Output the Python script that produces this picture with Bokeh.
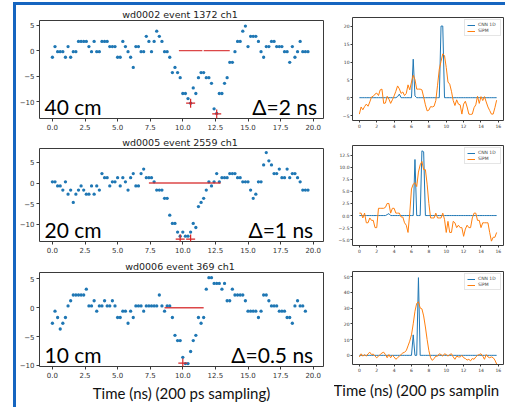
import numpy as np
from bokeh.plotting import figure
from bokeh.layouts import row, column, Spacer
from bokeh.models import Label, Range1d, FixedTicker, Legend, LegendItem, CustomJSTickFormatter, Title
from bokeh.embed import file_html
from bokeh.resources import INLINE

# ---------------- data: left panels (digitised waveform, 200 ps sampling) -------------
titles_left = ["wd0002 event 1372  ch1", "wd0005 event 2559  ch1", "wd0006 event 369  ch1"]
dist_labels = ["40 cm", "20 cm", "10 cm"]
delta_labels = ["\u0394=2 ns", "\u0394=1 ns", "\u0394=0.5 ns"]

wave1 = [-1.3, 0.8, -0.2, -0.2, -0.2, -1.3, 0.8, -1.3, -0.2, -0.2,
         1.8, 1.8, 1.8, 1.8, 0.8, -0.2, 1.8, -0.2, -0.2, 1.8,
         1.8, 1.8, 0.8, 0.8, 0.8, -1.3, -1.3, 1.8, 0.8, -0.2,
         -1.3, -3.3, 0.8, 0.8, -0.2, -0.2, 2.8, 1.8, -0.2, 1.8,
         3.8, 2.8, 1.8, -0.2, -0.2, -1.3, -4.3, -3.3, -4.3, -5.3,
         -8.4, -8.4, -9.4, -10.3, -7.3, -8.4, -5.3, -4.3, -4.3, -5.3,
         -5.3, -6.4, -11.4, -12.3, -8.4, -8.4, -6.4, -5.3, -2.3, -2.3,
         -0.2, 1.8, 1.8, 3.8, 4.8, 0.8, 2.8, 2.8, 2.8, 1.8,
         -0.2, -1.3, 0.8, 0.8, 1.8, 1.8, 0.8, 0.8, 0.8, -0.2,
         -0.2, -2.3, 0.8, -1.3, -0.2, 1.8, -0.2, -0.2, -0.2]
wave2 = [0.3, 0.3, -0.7, -0.7, -1.7, 0.3, -2.7, -1.7, -4.7, -2.7,
         -1.7, -0.7, -1.7, -2.7, -2.7, -0.7, -2.7, -0.7, -1.7, 2.3,
         1.3, 1.3, -0.7, 0.3, 0.3, 1.3, -0.7, 1.3, 0.3, -1.7,
         1.3, 2.3, -0.7, -0.7, 2.3, 3.4, 1.3, 1.3, 1.3, 0.3,
         -1.7, -1.7, -1.7, -3.7, -3.7, -7.8, -9.8, -9.8, -11.9, -12.9,
         -11.9, -12.9, -12.9, -11.9, -9.8, -10.8, -5.7, -4.7, -3.7, -1.7,
         0.3, -0.7, 0.3, 2.3, 0.3, 1.3, 1.3, 1.3, 2.3, 2.3,
         2.3, 1.3, 1.3, 0.3, 0.3, 0.3, -1.7, -3.7, -2.7, 0.3,
         0.3, 4.4, 7.4, 5.4, 4.4, 2.3, 2.3, 3.4, 1.3, 1.3,
         3.4, 1.3, 2.3, 2.3, 1.3, 0.3, -1.7, -1.7, -1.7]
wave3 = [-2.7, -0.6, -1.7, -3.7, -2.7, -1.7, 0.3, 1.2, 2.2, 2.2,
         2.2, 2.2, 2.2, 3.2, 0.3, 0.3, 1.2, -0.6, 0.3, 0.3,
         1.2, 0.3, 0.3, 1.2, 0.3, -1.7, -1.7, -0.6, -0.6, -2.7,
         -0.6, -1.7, 0.3, 0.3, 0.3, -0.6, 0.3, 0.3, 0.3, 0.3,
         0.3, 2.2, 0.3, -0.6, 0.3, 0.3, -1.7, -4.8, -5.7, -5.7,
         -8.6, -9.7, -9.7, -7.6, -5.7, -4.8, -1.7, -2.7, -1.7, 3.2,
         5.2, 5.2, 4.2, 4.2, 4.2, 3.2, 4.2, 1.2, 1.2, 3.2,
         2.2, 2.2, 2.2, 2.2, 1.2, -0.6, -0.6, -0.6, -0.6, -1.7,
         -0.6, 2.2, 2.2, 1.2, 0.3, 0.3, 0.3, -0.6, -0.6, -0.6,
         -1.7, -1.7, -2.7, 0.3, 1.2, 0.3, 0.3, -0.6]
waves = [wave1, wave2, wave3]

# red baseline segments (start, end) and red crosses (time, amplitude)
red_segments = [[(9.7, 11.5), (11.6, 13.6)], [(7.4, 12.9)], [(8.6, 11.6)]]
red_crosses = [[(10.6, -10.3), (12.6, -12.4)], [(9.8, -13.6), (10.6, -13.6)], [(10.0, -9.6)]]
left_yranges = [(-13.3, 5.9), (-14.2, 8.4), (-10.2, 6.1)]
left_xrange = (-0.99, 20.79)
left_xticks = [0, 2.5, 5, 7.5, 10, 12.5, 15, 17.5, 20]
left_yticks = [-10, -5, 0, 5]
delta_x = [20.3, 20.0, 20.0]

# ---------------- data: right panels (CNN 1D vs SiPM) ----------------
cnn1 = [0.0] * 80
for i, v in [(22, 0.3), (23, 1.0), (31, 10.8), (32, 0.5), (47, 20.1), (48, 20.1)]:
    cnn1[i] = v
cnn2 = [0.0] * 80
for i, v in [(16, 0.2), (17, 0.4), (32, 11.6), (36, 13.4), (37, 13.2)]:
    cnn2[i] = v
cnn3 = [0.0] * 80
for i, v in [(31, 13.0), (34, 49.3)]:
    cnn3[i] = v

sipm1 = [-4.6, -2.6, -3.4, -2.5, -1.8, -2.4, -1.2, 0.2, 0.4, 1.0,
         1.3, 0.6, 2.2, 2.4, -1.6, -1.5, 0.4, -0.4, -1.6, -0.6,
         0.5, 1.8, 3.3, 2.5, 1.2, 1.6, 0.6, 1.2, 3.6, 2.2,
         4.4, 6.3, 5.1, 2.4, 2.4, 2.4, 2.2, 0.2, -2.0, -3.7,
         -3.5, -2.5, -2.6, -2.4, -0.8, 3.5, 8.0, 10.2, 12.3, 11.8,
         8.5, 4.4, 3.8, 1.8, -0.8, -2.2, -0.6, -1.8, -2.0, -4.6,
         -1.8, -1.0, -2.6, -4.6, -4.7, -4.6, -2.8, -2.0, 0.4, -1.6,
         0.3, -0.8, 0.3, -1.2, -2.6, -3.6, -4.6, -4.6, -2.8, -0.7]
sipm2 = [0.5, 0.5, -0.5, 0.5, -1.5, -1.5, -0.5, -1.0, -1.0, -2.5,
         -2.5, 1.5, 1.5, 1.5, 1.5, 1.7, 2.5, 2.5, 0.5, 1.5,
         1.5, 0.5, 0.5, 0.5, -0.3, -0.3, -1.5, -2.0, -3.5, 0.5,
         5.5, 6.5, 6.8, 6.0, 9.0, 10.5, 11.2, 9.5, 9.5, 6.5,
         2.5, -0.5, -0.5, -0.5, 0.5, -0.5, -0.5, -0.5, 0.5, -0.8,
         -3.5, -1.2, -3.5, -3.5, -1.2, -1.5, -2.5, -2.0, -2.5, -2.5,
         -4.3, -2.8, -2.0, -2.5, -2.5, -0.5, 0.5, 0.5, -1.0, -1.0,
         -2.5, -1.5, -1.5, -1.5, -1.5, -3.5, -5.3, -4.5, -4.5, -3.5]
sipm3 = [-1.0, 1.0, -0.5, 0.5, -0.5, 1.0, 2.0, 0.5, 0.8, -0.5,
         -1.5, -0.5, 0.5, 1.5, 2.0, 0.5, -1.5, 0.5, -1.5, 0.0,
         -1.0, -2.5, -1.5, -0.5, 0.5, 1.5, 2.0, 3.0, 6.0, 9.0,
         13.0, 20.0, 28.0, 33.0, 34.0, 30.0, 29.5, 25.0, 18.0, 10.0,
         3.0, -1.5, -3.2, -2.0, -0.5, -0.5, 1.0, 0.5, -0.5, 1.0,
         0.5, -0.5, 0.5, 1.0, -1.0, -2.5, -0.5, -1.0, -1.0, 0.0,
         -1.5, -2.0, -3.0, -2.5, -3.5, -2.0, -2.5, -1.0, 0.0, 0.5,
         1.0, -0.5, -2.5, 0.5, -1.0, -1.5, -1.0, -1.5, -3.0, -5.5]
cnns = [cnn1, cnn2, cnn3]
sipms = [sipm1, sipm2, sipm3]
right_xrange = (-0.79, 16.59)
right_xticks = [0, 2, 4, 6, 8, 10, 12, 14, 16]
right_yranges = [(-6.4, 22.5), (-6.2, 14.5), (-5.8, 53.2)]
right_yticks = [[-5, 0, 5, 10, 15, 20], [-5, -2.5, 0, 2.5, 5, 7.5, 10, 12.5], [0, 10, 20, 30, 40, 50]]
right_ydec = [0, 1, 0]
xlabel_left = "Time (ns) (200 ps sampling)"
xlabel_right = "Time (ns) (200 ps samplin"

BLUE = "#1f77b4"
ORANGE = "#ff7f0e"
RED = "#d62728"
FRAME = "#3a3a3a"
SLIDE_BLUE = "#1565c0"


def fmt(dec):
    return CustomJSTickFormatter(args=dict(d=dec),
                                 code="return tick.toFixed(d).replace('-', '\\u2212');")


def base_fig(w, h, borders, xr, yr, xticks, yticks, xdec, ydec, tick_font, tick_len, standoff):
    top, right, bottom, left = borders
    p = figure(width=w, height=h, output_backend="svg", toolbar_location=None,
               x_range=Range1d(*xr), y_range=Range1d(*yr),
               min_border_top=top, min_border_right=right,
               min_border_bottom=bottom, min_border_left=left)
    p.grid.visible = False
    p.outline_line_color = FRAME
    p.outline_line_width = 1
    p.background_fill_color = "white"
    p.border_fill_color = "white"
    for ax, ticks, dec in ((p.xaxis[0], xticks, xdec), (p.yaxis[0], yticks, ydec)):
        ax.ticker = FixedTicker(ticks=ticks)
        ax.formatter = fmt(dec)
        ax.axis_line_color = None
        ax.major_tick_in = 0
        ax.major_tick_out = tick_len
        ax.minor_tick_line_color = None
        ax.major_tick_line_color = FRAME
        ax.major_label_text_font = "DejaVu Sans"
        ax.major_label_text_font_size = tick_font
        ax.major_label_text_color = "#333333"
        ax.major_label_standoff = standoff
    return p


# (width, height, (top, right, bottom, left) borders)
left_sizes = [(318, 129, (15, 11, 16, 23)), (318, 124, (13, 11, 17, 23)), (318, 152, (12, 11, 44, 23))]
right_sizes = [(171, 130, (12, 2, 15, 18)), (171, 124, (10, 2, 14, 18)), (171, 151, (12, 2, 46, 18))]

left_figs = []
for k in range(3):
    w, h, b = left_sizes[k]
    p = base_fig(w, h, b, left_xrange, left_yranges[k], left_xticks, left_yticks, 1, 0,
                 "7px", 3, 2)
    p.title.text = titles_left[k]
    p.title.text_font = "DejaVu Sans"
    p.title.text_font_size = "9.5px"
    p.title.text_font_style = "normal"
    p.title.text_color = "#222222"
    p.title.align = "center"
    p.title.standoff = 1
    t = np.arange(len(waves[k])) * 0.2
    p.scatter(t, waves[k], size=3.3, color=BLUE, line_color=None)
    segs = red_segments[k]
    p.segment(x0=[s[0] for s in segs], y0=[0] * len(segs), x1=[s[1] for s in segs],
              y1=[0] * len(segs), line_color=RED, line_width=1.4, line_alpha=0.85)
    cr = red_crosses[k]
    p.scatter([c[0] for c in cr], [c[1] for c in cr], marker="cross", size=9,
              line_color=RED, line_width=1.2)
    ylo = left_yranges[k][0]
    p.add_layout(Label(x=-0.6, y=ylo, text=dist_labels[k], text_font="Lato",
                       text_font_size="21px", text_baseline="bottom", text_color="black"))
    p.add_layout(Label(x=delta_x[k], y=ylo, text=delta_labels[k], text_font="Lato",
                       text_font_size="21px", text_baseline="bottom", text_align="right",
                       text_color="black"))
    if k == 2:
        p.xaxis.axis_label = xlabel_left
        p.xaxis.axis_label_text_font = "Lato"
        p.xaxis.axis_label_text_font_size = "15px"
        p.xaxis.axis_label_text_font_style = "normal"
        p.xaxis.axis_label_text_color = "#111111"
        p.xaxis.axis_label_standoff = 3
    left_figs.append(p)

right_figs = []
for k in range(3):
    w, h, b = right_sizes[k]
    p = base_fig(w, h, b, right_xrange, right_yranges[k], right_xticks, right_yticks[k], 0,
                 right_ydec[k], "4.5px", 2, 1)
    t = np.arange(80) * 0.2
    r1 = p.line(t, cnns[k], line_color=BLUE, line_width=1)
    r2 = p.line(t, sipms[k], line_color=ORANGE, line_width=1)
    leg = Legend(items=[LegendItem(label="CNN 1D", renderers=[r1]),
                        LegendItem(label="SiPM", renderers=[r2])],
                 location="top_right", label_text_font="DejaVu Sans",
                 label_text_font_size="4.5px", glyph_width=8, glyph_height=4,
                 label_height=4, spacing=1, padding=2, margin=2, label_standoff=3,
                 border_line_color="#cccccc", border_line_width=0.5,
                 background_fill_alpha=0.85)
    p.add_layout(leg)
    if k == 2:
        p.add_layout(Title(text=xlabel_right, align="left", offset=-19, standoff=8,
                           text_font="Lato", text_font_size="15px", text_font_style="normal",
                           text_color="#111111"), "below")
    right_figs.append(p)

# slide frame (blue rules at the top and left of the slide)
top_line = row(Spacer(width=13, height=3),
               Spacer(width=492, height=3, styles={"background-color": SLIDE_BLUE}), spacing=0)
main = row(Spacer(width=13, height=405),
           column(Spacer(width=3, height=402, styles={"background-color": SLIDE_BLUE}),
                  Spacer(width=3, height=3), spacing=0),
           column(*left_figs, spacing=0), column(*right_figs, spacing=0), spacing=0)
layout = column(Spacer(width=505, height=2), top_line, main, spacing=0)

open("out.html", "w").write(file_html(layout, INLINE))
